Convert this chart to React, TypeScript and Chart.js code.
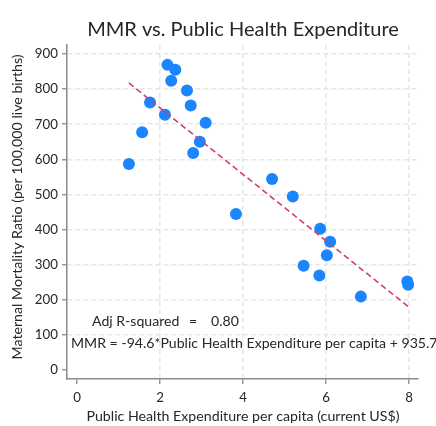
import React, { useEffect, useRef } from "react";
import { Chart, registerables } from "chart.js";

Chart.register(...registerables);

const expenditure = [1.25, 1.57, 1.76, 2.18, 2.37, 2.27, 2.12, 2.65, 2.74, 3.1, 2.96, 2.8, 3.83, 4.7, 5.2, 5.86, 6.1, 6.02, 5.46, 5.84, 6.84, 7.96, 7.98];
const mmr = [587, 677, 762, 869, 855, 824, 727, 796, 753, 704, 650, 618, 444, 544, 494, 402, 365, 327, 297, 269, 209, 252, 243];
const fitSlope = -94.6;
const fitIntercept = 935.7;
const xTicks = [0, 2, 4, 6, 8];
const yTicks = [0, 100, 200, 300, 400, 500, 600, 700, 800, 900];

const titleText = "MMR vs. Public Health Expenditure";
const xTitle = "Public Health Expenditure per capita (current US$)";
const yTitle = "Maternal Mortality Ratio (per 100,000 live births)";
const r2Label = "Adj R-squared";
const r2Eq = "=";
const r2Value = "0.80";
const eqText = "MMR = -94.6*Public Health Expenditure per capita + 935.7";

const FONT = "Lato, 'Open Sans', sans-serif";

export default function App() {
  const ref = useRef<HTMLCanvasElement | null>(null);

  useEffect(() => {
    document.body.style.margin = "0";
    const canvas = ref.current;
    if (!canvas) return;
    const xMin = Math.min(...expenditure);
    const xMax = Math.max(...expenditure);
    const fitLine = [xMin, xMax].map((x) => ({ x, y: fitIntercept + fitSlope * x }));
    const points = expenditure.map((x, i) => ({ x, y: mmr[i] }));

    const textPlugin = {
      id: "texts",
      afterDraw(chart: any) {
        const ctx = chart.ctx;
        ctx.save();
        ctx.fillStyle = "#262626";
        ctx.textBaseline = "middle";
        ctx.textAlign = "center";
        ctx.font = `20px ${FONT}`;
        ctx.fillText(titleText, 243, 30);
        ctx.font = `14.2px ${FONT}`;
        ctx.fillText(xTitle, 243, 416);
        ctx.save();
        ctx.translate(17, 207);
        ctx.rotate(-Math.PI / 2);
        ctx.fillText(yTitle, 0, 0);
        ctx.restore();
        ctx.font = `14.1px ${FONT}`;
        ctx.textAlign = "left";
        ctx.fillText(r2Label, 92, 321);
        ctx.textAlign = "center";
        ctx.fillText(r2Eq, 193, 321);
        ctx.textAlign = "left";
        ctx.fillText(r2Value, 211, 321);
        ctx.fillText(eqText, 71, 343);
        ctx.restore();
      },
    };

    const gridColor = (c: any) => (c.tick && c.tick.value === 0 ? "rgba(0,0,0,0)" : "#e6e6e6");

    const chart = new Chart(canvas, {
      type: "scatter",
      data: {
        datasets: [
          {
            type: "line",
            data: fitLine,
            borderColor: "#d93a72",
            borderWidth: 1.6,
            borderDash: [6, 3.5],
            pointRadius: 0,
            fill: false,
          } as any,
          {
            data: points,
            backgroundColor: "#1a85ff",
            borderColor: "#1a85ff",
            borderWidth: 0,
            pointRadius: 6,
          },
        ],
      },
      plugins: [textPlugin],
      options: {
        animation: false,
        responsive: false,
        layout: { padding: { left: 0, top: 45, right: 18, bottom: 0 } },
        plugins: { legend: { display: false }, title: { display: false }, tooltip: { enabled: false } },
        scales: {
          x: {
            type: "linear",
            min: -0.241,
            max: 8.217,
            bounds: "data",
            afterFit: (s: any) => {
              s.height = 47;
            },
            afterBuildTicks: (s: any) => {
              s.ticks = xTicks.map((v) => ({ value: v }));
            },
            grid: { color: gridColor, lineWidth: 1.5, tickColor: "#8a8a8a", tickLength: 5, tickWidth: 1.3 },
            border: { display: true, color: "#8a8a8a", width: 1.5, dash: [5, 3] },
            ticks: { color: "#262626", font: { family: FONT, size: 13.3 }, padding: 6, maxRotation: 0 },
          },
          y: {
            type: "linear",
            min: -25.6,
            max: 925.6,
            bounds: "data",
            afterFit: (s: any) => {
              s.width = 67;
            },
            afterBuildTicks: (s: any) => {
              s.ticks = yTicks.map((v) => ({ value: v }));
            },
            grid: { color: gridColor, lineWidth: 1.5, tickColor: "#8a8a8a", tickLength: 5, tickWidth: 1.3 },
            border: { display: true, color: "#8a8a8a", width: 1.5, dash: [5, 3] },
            ticks: { color: "#262626", font: { family: FONT, size: 13.3 }, padding: 4 },
          },
        },
      },
    });
    return () => chart.destroy();
  }, []);

  return (
    <div style={{ width: 436, height: 426 }}>
      <canvas ref={ref} width={436} height={426} style={{ display: "block" }} />
    </div>
  );
}
